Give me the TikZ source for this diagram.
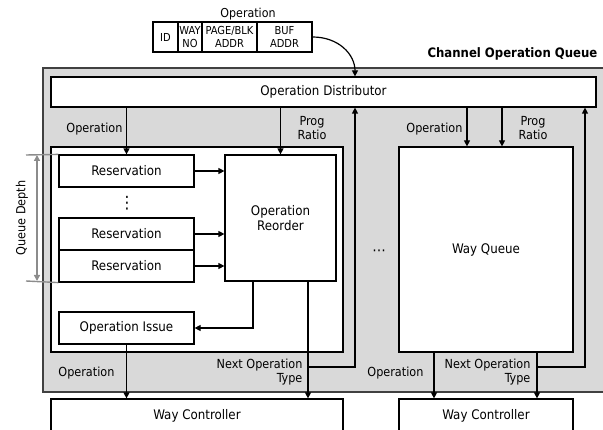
\documentclass[tikz,border=0pt]{standalone}
\usepackage{fontspec}
\setmainfont{DejaVu Sans Condensed}
\usepackage{tikz}
\usetikzlibrary{arrows.meta, positioning, calc}
\tikzset{
         mybox/.style={draw, fill=white, inner sep=1pt, align=center, font=\fontsize{13.2}{15.5}\selectfont},
         myfield/.style={draw, fill=white, inner sep=0pt, minimum height=30pt, align=center, font=\fontsize{11}{12.5}\selectfont},
         mylabel/.style={draw=none, inner sep=0pt, align=center, font=\fontsize{12.5}{14}\selectfont},
         myres/.style={mybox, minimum width=135pt, minimum height=32pt},
         mydepth/.style={draw=black!45, line width=1.4pt}
      }

\begin{document}
\begin{tikzpicture}[x=1pt, y=-1pt, >={Triangle[length=6pt,width=6pt]}, line width=1.2pt]
  \useasboundingbox (0,0) rectangle (603,430);

  % operation word
  \node[myfield, minimum width=25pt] (fid) at (165.5,37) {ID};
  \node[myfield, minimum width=24pt, right=-\pgflinewidth of fid] (fway) {WAY\\NO};
  \node[myfield, minimum width=55pt, right=-\pgflinewidth of fway] (faddr) {PAGE/BLK\\ADDR};
  \node[myfield, minimum width=55pt, right=-\pgflinewidth of faddr] (fbuf) {BUF\\ADDR};
  \node[mylabel, font=\fontsize{12.3}{14}\selectfont] (ftitle) at (248,14) {Operation};

  % channel queue
  \draw[fill=black!15, draw=black!75, line width=1.6pt] (43,68) rectangle (606,392);
  \node[mylabel, font=\bfseries\fontsize{13}{15}\selectfont, anchor=east] (chq) at (598,54) {Channel Operation Queue};
  \node[mybox, minimum width=545pt, minimum height=30pt] (dist) at (323.5,92) {Operation Distributor};

  % left way queue
  \node[draw, fill=white, minimum width=292pt, minimum height=205pt] (qleft) at (197,249.5) {};
  \node[myres] (resA) at (126.5,171) {Reservation};
  \node[myres] (resB) at (126.5,234) {Reservation};
  \node[myres, below=-\pgflinewidth of resB] (resC) {Reservation};
  \node[mylabel, font=\fontsize{17}{18}\selectfont] (vdots) at (127,203) {⋮};
  \node[mybox, minimum width=111pt, minimum height=126pt] (reorder) at (280.5,218) {Operation\\Reorder};
  \node[myres] (issue) at (126.5,328) {Operation Issue};

  % right way queue
  \node[mybox, minimum width=174pt, minimum height=205pt] (wayq) at (486,249.5) {Way Queue};
  \node[mylabel, font=\fontsize{15}{16}\selectfont] (hdots) at (379,253) {⋯};

  % controllers
  \node[mybox, minimum width=292pt, minimum height=34pt] (ctrlA) at (197,416) {Way Controller};
  \node[mybox, minimum width=174pt, minimum height=34pt] (ctrlB) at (486,416) {Way Controller};

  \coordinate (distIn) at ([xshift=31.5pt]dist.north);
  \coordinate (roIssue) at ([xshift=-27.5pt]reorder.south);
  \coordinate (roNext) at ([xshift=27.5pt]reorder.south);
  \coordinate (fbA) at (355,367);
  \coordinate (wqIn) at ([xshift=-19pt]wayq.north);
  \coordinate (wqRatio) at ([xshift=16pt]wayq.north);
  \coordinate (wqOp) at ([xshift=-52pt]wayq.south);
  \coordinate (wqNext) at ([xshift=51pt]wayq.south);
  \coordinate (fbB) at (585,367);

  % connectors
  \draw[->] (fbuf.east) .. controls +(26,0) and +(0,-22) .. (distIn);
  \draw[->] (dist.south -| resA.north) -- (resA.north);
  \draw[->] (dist.south -| reorder.north) -- (reorder.north);
  \foreach \r in {resA,resB,resC}
    \draw[->] (\r.east) -- (\r.east -| reorder.west);
  \draw[->] (roIssue) |- (issue.east);
  \draw[->] (issue.south) -- (issue.south |- ctrlA.north);
  \draw[->] (roNext) -- (roNext |- ctrlA.north);
  \draw[->] (roNext |- fbA) -- (fbA) -- (dist.south -| fbA);
  \draw[->] (dist.south -| wqIn) -- (wqIn);
  \draw[->] (dist.south -| wqRatio) -- (wqRatio);
  \draw[->] (wqOp) -- (wqOp |- ctrlB.north);
  \draw[->] (wqNext) -- (wqNext |- ctrlB.north);
  \draw[->] (wqNext |- fbB) -- (fbB) -- (dist.south -| fbB);

  % labels
  \node[mylabel, anchor=east] (lopA) at (123,129) {Operation};
  \node[mylabel] (lratioA) at (312,128) {Prog\\Ratio};
  \node[mylabel, anchor=east] (lopB) at (463,129) {Operation};
  \node[mylabel] (lratioB) at (533,128) {Prog\\Ratio};
  \node[mylabel, anchor=east] (loutA) at (115,373) {Operation};
  \node[mylabel, anchor=east, align=right] (lnextA) at (303,372) {Next Operation\\Type};
  \node[mylabel, anchor=east] (loutB) at (424,373) {Operation};
  \node[mylabel, anchor=east, align=right] (lnextB) at (531,372) {Next Operation\\Type};

  % queue depth
  \coordinate (qdTop) at (26,155);
  \coordinate (qdBot) at (26,281);
  \draw[mydepth] (qdTop) -- (resA.north west);
  \draw[mydepth] (qdBot) -- (resC.south west);
  \draw[mydepth, <->] ([xshift=11pt]qdTop) -- ([xshift=11pt]qdBot);
  \node[mylabel, rotate=90] (qdLabel) at (22,218) {Queue Depth};
\end{tikzpicture}
\end{document}
